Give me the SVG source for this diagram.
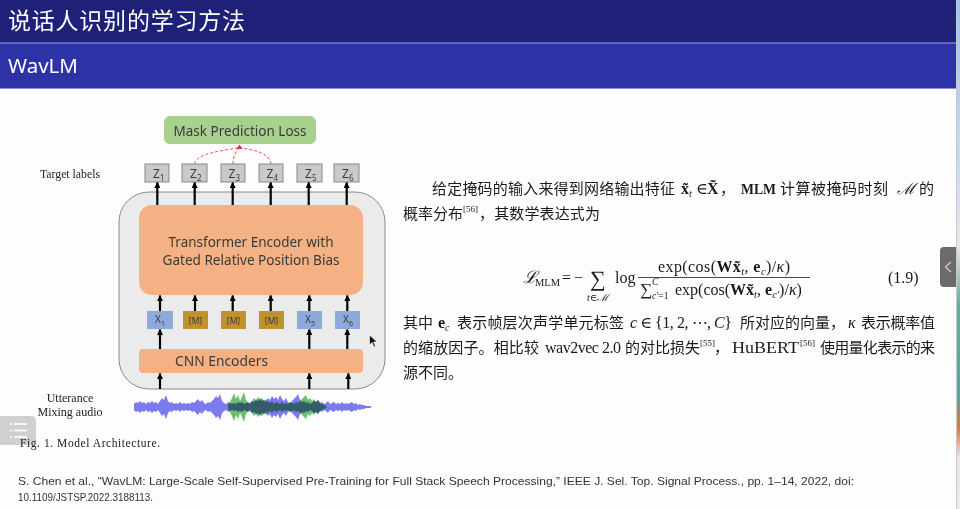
<svg xmlns="http://www.w3.org/2000/svg" width="960" height="509" viewBox="0 0 960 509">
  <defs>
    <style>
      .cjk { font-family: "Noto Sans CJK SC", "Noto Sans", sans-serif; }
      .ser { font-family: "Liberation Serif", "DejaVu Serif", serif; }
      .body { font-size: 15px; fill: #1a1a1a; }
      .lbl { font-family: "Noto Sans", "Liberation Sans", sans-serif; fill: #3a3a3a; }
      .zbox { fill: #c9c9c9; stroke: #8a8a8a; stroke-width: 1; }
      .xbox { fill: #8eaadb; }
      .mbox { fill: #c0922c; }
      .arrow { stroke: #000; stroke-width: 2.2; fill: none; marker-end: url(#head); }
      .dash { stroke: #e8585a; stroke-width: 1; stroke-dasharray: 3 2; fill: none; }
      .cap { font-family: "Liberation Serif", serif; fill: #222; }
    </style>
    <marker id="head" viewBox="0 0 10 10" refX="9" refY="5" markerWidth="6" markerHeight="6" markerUnits="userSpaceOnUse" orient="auto">
      <path d="M0,0 L10,5 L0,10 z" fill="#000"/>
    </marker>
    <linearGradient id="edge" x1="0" y1="0" x2="0" y2="1">
      <stop offset="0" stop-color="#9fc2ef"/>
      <stop offset="0.35" stop-color="#cfdcf4"/>
      <stop offset="0.48" stop-color="#efe3ea"/>
      <stop offset="0.6" stop-color="#6aa9a2"/>
      <stop offset="0.78" stop-color="#5ea39c"/>
      <stop offset="0.84" stop-color="#e27245"/>
      <stop offset="0.9" stop-color="#e8e8e8"/>
      <stop offset="1" stop-color="#ececec"/>
    </linearGradient>
    <!-- upper half of the speech envelope; mirrored below the axis -->
    <path id="wBlue" d="M134,407 L134,404 136,402 138,403 140,401 142,403 144,402 146,404 148,402 150,403 152,401 154,403 156,402 158,404 160,401 162,398 164,400 166,395 168,401 170,403 172,402 174,404 176,403 178,404 180,402 182,404 184,403 186,404 188,403 190,404 192,402 194,403 196,401 198,399 200,402 202,400 204,403 206,404 208,402 210,403 212,401 214,399 216,396 218,398 220,394 222,401 224,403 226,404 228,402 230,403 232,404 234,403 236,404 238,402 240,403 242,402 244,404 246,403 248,402 250,403 252,401 254,402 256,400 258,401 260,399 262,401 264,400 266,402 268,398 270,400 272,396 274,399 276,397 278,400 280,395 282,399 284,401 286,398 288,402 290,403 292,401 294,399 296,397 298,394 300,400 302,402 304,401 306,403 308,402 310,404 312,403 314,401 316,402 318,400 320,403 322,402 324,404 326,403 328,401 330,404 332,403 334,402 336,404 338,403 340,404 342,402 344,404 346,403 348,404 350,403 352,402 354,404 356,403 358,405 360,404 362,405 364,405 366,406 370,406 372,407 Z"/>
    <path id="wGreen" d="M228,407 L228,405 230,402 232,398 234,393 236,399 238,395 240,401 242,397 244,392 246,400 248,403 250,404 252,401 254,398 256,400 258,397 260,399 262,398 264,401 266,399 268,402 270,403 272,401 274,404 276,402 278,403 280,404 282,402 284,404 286,403 288,404 290,402 292,403 294,404 296,402 298,403 300,401 302,399 304,397 306,395 308,400 310,398 312,401 314,399 316,402 318,400 320,403 322,404 324,405 326,406 327,407 Z"/>
  </defs>

  <!-- slide background and header bars -->
  <rect x="0" y="0" width="960" height="509" fill="#fdfdfd"/>
  <rect x="0" y="0" width="956" height="43" fill="#1f2179"/>
  <rect x="0" y="42" width="956" height="1.5" fill="#5a5dc4"/>
  <rect x="0" y="43.5" width="956" height="44.5" fill="#2d32a6"/>
  <rect x="0" y="88" width="956" height="1" fill="#8f92d6"/>
  <text x="8" y="29" class="cjk" font-size="23" fill="#ffffff" textLength="237" lengthAdjust="spacing">说话人识别的学习方法</text>
  <text x="8" y="73" font-family="Noto Sans, Liberation Sans, sans-serif" font-size="20.5" fill="#ffffff">WavLM</text>

  <!-- window edge -->
  <rect x="956" y="0" width="1" height="509" fill="#c8c8c8"/>
  <rect x="957" y="0" width="3" height="509" fill="url(#edge)"/>
  <g id="side-tab">
    <path d="M956,247 L944,247 Q940,247 940,251 L940,283 Q940,287 944,287 L956,287 Z" fill="#6b6b6b"/>
    <path d="M951,262 L945.5,267 L951,272" stroke="#c8c8c8" stroke-width="1.4" fill="none"/>
  </g>
  <g id="menu-tab">
    <path d="M0,416 L31,416 Q36,416 36,421 L36,440 Q36,445 31,445 L0,445 Z" fill="#d0d0d0"/>
    <g stroke="#ffffff" stroke-width="1.6">
      <line x1="14" y1="424" x2="27" y2="424"/>
      <line x1="14" y1="430.5" x2="27" y2="430.5"/>
      <line x1="14" y1="437" x2="27" y2="437"/>
    </g>
    <g fill="#ffffff">
      <circle cx="11" cy="424" r="0.9"/>
      <circle cx="11" cy="430.5" r="0.9"/>
      <circle cx="11" cy="437" r="0.9"/>
    </g>
  </g>

  <!-- ===== architecture figure ===== -->
  <g id="encoder-frame">
    <rect x="119" y="192" width="266" height="197" rx="30" ry="30" fill="#ebebeb" stroke="#8a8a8a" stroke-width="1"/>
  </g>

  <g id="mask-loss">
    <rect x="164" y="116" width="152" height="28" rx="6" fill="#a9d18e"/>
    <text x="240" y="136" text-anchor="middle" class="lbl" font-size="15" textLength="133" lengthAdjust="spacingAndGlyphs" fill="#333">Mask Prediction Loss</text>
  </g>

  <text x="40" y="178" class="cap" font-size="11.5" textLength="60" lengthAdjust="spacingAndGlyphs">Target labels</text>

  <g id="z1"><rect class="zbox" x="145" y="164" width="24" height="18"/><text class="lbl" x="153" y="178" font-size="12">Z<tspan font-size="8" dy="3">1</tspan></text></g>
  <g id="z2"><rect class="zbox" x="182" y="164" width="25" height="18"/><text class="lbl" x="190" y="178" font-size="12">Z<tspan font-size="8" dy="3">2</tspan></text></g>
  <g id="z3"><rect class="zbox" x="221" y="164" width="24" height="18"/><text class="lbl" x="228.5" y="178" font-size="12">Z<tspan font-size="8" dy="3">3</tspan></text></g>
  <g id="z4"><rect class="zbox" x="259" y="164" width="24" height="18"/><text class="lbl" x="266.5" y="178" font-size="12">Z<tspan font-size="8" dy="3">4</tspan></text></g>
  <g id="z5"><rect class="zbox" x="297" y="164" width="25" height="18"/><text class="lbl" x="305" y="178" font-size="12">Z<tspan font-size="8" dy="3">5</tspan></text></g>
  <g id="z6"><rect class="zbox" x="334" y="164" width="25" height="18"/><text class="lbl" x="342" y="178" font-size="12">Z<tspan font-size="8" dy="3">6</tspan></text></g>

  <g id="transformer">
    <rect x="139" y="205" width="224" height="90" rx="13" fill="#f4b183"/>
    <text x="251" y="246.5" text-anchor="middle" class="lbl" font-size="14" textLength="165" lengthAdjust="spacingAndGlyphs" fill="#333">Transformer Encoder with</text>
    <text x="251" y="265" text-anchor="middle" class="lbl" font-size="14" textLength="177" lengthAdjust="spacingAndGlyphs" fill="#333">Gated Relative Position Bias</text>
  </g>

  <g id="x1"><rect class="xbox" x="147" y="311" width="26" height="18"/><text class="lbl" x="155" y="323" font-size="10">X<tspan font-size="7" dy="2.5">1</tspan></text></g>
  <g id="m2"><rect class="mbox" x="183" y="311" width="25" height="18"/><text class="lbl" x="195.5" y="323.5" font-size="8.5" text-anchor="middle" fill="#4a3b10">[M]</text></g>
  <g id="m3"><rect class="mbox" x="221" y="311" width="25" height="18"/><text class="lbl" x="233.5" y="323.5" font-size="8.5" text-anchor="middle" fill="#4a3b10">[M]</text></g>
  <g id="m4"><rect class="mbox" x="259" y="311" width="25" height="18"/><text class="lbl" x="271.5" y="323.5" font-size="8.5" text-anchor="middle" fill="#4a3b10">[M]</text></g>
  <g id="x5"><rect class="xbox" x="297" y="311" width="25" height="18"/><text class="lbl" x="305" y="323" font-size="10">X<tspan font-size="7" dy="2.5">5</tspan></text></g>
  <g id="x6"><rect class="xbox" x="335" y="311" width="25" height="18"/><text class="lbl" x="343" y="323" font-size="10">X<tspan font-size="7" dy="2.5">6</tspan></text></g>

  <g id="cnn">
    <rect x="139" y="349" width="224" height="24" rx="4" fill="#f4b183"/>
    <text x="221.5" y="366" text-anchor="middle" class="lbl" font-size="15" textLength="93" lengthAdjust="spacingAndGlyphs" fill="#333">CNN Encoders</text>
  </g>

  <g id="connectors">
    <!-- transformer outputs to target labels -->
    <line class="arrow" x1="157.3" y1="205" x2="157.3" y2="182.5"/>
    <line class="arrow" x1="194.7" y1="205" x2="194.7" y2="182.5"/>
    <line class="arrow" x1="232.7" y1="205" x2="232.7" y2="182.5"/>
    <line class="arrow" x1="270.7" y1="205" x2="270.7" y2="182.5"/>
    <line class="arrow" x1="308.7" y1="205" x2="308.7" y2="182.5"/>
    <line class="arrow" x1="346.7" y1="205" x2="346.7" y2="182.5"/>
    <!-- masked frames into the transformer -->
    <line class="arrow" x1="160" y1="311" x2="160" y2="295.5"/>
    <line class="arrow" x1="195" y1="311" x2="195" y2="295.5"/>
    <line class="arrow" x1="232.7" y1="311" x2="232.7" y2="295.5"/>
    <line class="arrow" x1="270.7" y1="311" x2="270.7" y2="295.5"/>
    <line class="arrow" x1="309.3" y1="311" x2="309.3" y2="295.5"/>
    <line class="arrow" x1="347.3" y1="311" x2="347.3" y2="295.5"/>
    <!-- CNN features to unmasked frames -->
    <line class="arrow" x1="160" y1="349" x2="160" y2="329.5"/>
    <line class="arrow" x1="309.3" y1="349" x2="309.3" y2="329.5"/>
    <line class="arrow" x1="347.3" y1="349" x2="347.3" y2="329.5"/>
    <!-- audio into the CNN -->
    <line class="arrow" x1="160" y1="389" x2="160" y2="373.5"/>
    <line class="arrow" x1="309.3" y1="389" x2="309.3" y2="373.5"/>
    <line class="arrow" x1="348.3" y1="389" x2="348.3" y2="373.5"/>
    <!-- masked positions feeding the loss -->
    <path class="dash" d="M194.7,164 C196,153 222,151 239.5,147.5"/>
    <path class="dash" d="M233,164 C233,156 236,151 239.5,147.5"/>
    <path class="dash" d="M271,164 C270,153 254,150 239.5,147.5"/>
    <path d="M239.5,144.5 L242.5,149 L236.5,149 Z" fill="#e8323a"/>
  </g>

  <g id="waveform">
    <use href="#wBlue" fill="#7b7bef"/>
    <use href="#wBlue" fill="#7b7bef" transform="matrix(1,0,0,-1,0,814)"/>
    <g style="mix-blend-mode:multiply">
      <use href="#wGreen" fill="#6cc070"/>
      <use href="#wGreen" fill="#6cc070" transform="matrix(1,0,0,-1,0,814)"/>
    </g>
  </g>

  <text x="70" y="402" text-anchor="middle" class="cap" font-size="12">Utterance</text>
  <text x="70" y="416" text-anchor="middle" class="cap" font-size="12" textLength="65" lengthAdjust="spacing">Mixing  audio</text>
  <text x="20" y="447" class="cap" font-size="11.5" textLength="140" lengthAdjust="spacing">Fig. 1.  Model Architecture.</text>

  <!-- pointer -->
  <path d="M369.5,335 L369.5,345 L372,342.5 L374,347 L375.5,346.3 L373.6,342 L377,342 Z" fill="#111" stroke="#fff" stroke-width="0.6"/>

  <!-- ===== explanatory text ===== -->
  <g class="body">
    <text y="194"><tspan x="432" class="cjk" textLength="243" lengthAdjust="spacing">给定掩码的输入来得到网络输出特征</tspan><tspan x="681" class="ser" font-weight="bold" font-size="16">x̃</tspan><tspan class="ser" font-style="italic" font-size="10" dy="3">t</tspan><tspan x="696" dy="-3" class="ser" font-size="16">∈</tspan><tspan x="707" class="ser" font-weight="bold" font-size="16">X̃</tspan><tspan x="720" class="cjk">，</tspan><tspan x="741" class="ser" font-weight="bold" textLength="35" lengthAdjust="spacingAndGlyphs">MLM</tspan><tspan x="780" class="cjk" textLength="108" lengthAdjust="spacing">计算被掩码时刻</tspan><tspan x="897" class="ser" font-style="italic" font-size="16">ℳ</tspan><tspan x="919" class="cjk">的</tspan></text>

    <text y="219"><tspan x="403" class="cjk" textLength="60" lengthAdjust="spacing">概率分布</tspan><tspan x="463" dy="-7" class="ser" font-size="9">[56]</tspan><tspan x="479" dy="7" class="cjk" textLength="121" lengthAdjust="spacing">，其数学表达式为</tspan></text>

    <!-- loss equation -->
    <g class="ser" font-size="16">
      <text x="523" y="283" font-style="italic" font-size="17">ℒ</text>
      <text x="535" y="286" font-size="10.5">MLM</text>
      <text x="562" y="283">=</text>
      <text x="574" y="283">−</text>
      <text x="590" y="286" font-size="22">∑</text>
      <text x="587" y="301" font-size="10" font-style="italic">t<tspan font-style="normal">∈</tspan>ℳ</text>
      <text x="615" y="283">log</text>
      <line x1="638" y1="277.5" x2="810" y2="277.5" stroke="#1a1a1a" stroke-width="0.8"/>
      <text x="658" y="272" textLength="132" lengthAdjust="spacing">exp(cos(<tspan font-weight="bold">Wx̃</tspan><tspan font-style="italic" font-size="10.5" dy="3">t</tspan><tspan dy="-3">, </tspan><tspan font-weight="bold">e</tspan><tspan font-style="italic" font-size="10.5" dy="3">c</tspan><tspan dy="-3">)/</tspan><tspan font-style="italic">κ</tspan>)</text>
      <text x="640" y="295"><tspan font-size="17">∑</tspan><tspan x="652" dy="-10" font-size="9.5" font-style="italic">C</tspan><tspan x="652" dy="14" font-size="9.5" font-style="italic">c′</tspan><tspan font-size="9.5">=1</tspan><tspan x="675" dy="-4">exp(cos(</tspan><tspan font-weight="bold">Wx̃</tspan><tspan font-style="italic" font-size="10.5" dy="3">t</tspan><tspan dy="-3">, </tspan><tspan font-weight="bold">e</tspan><tspan font-style="italic" font-size="10.5" dy="3">c′</tspan><tspan dy="-3">)/</tspan><tspan font-style="italic">κ</tspan>)</text>
      <text x="888" y="283">(1.9)</text>
    </g>

    <text y="328"><tspan x="403" class="cjk">其中</tspan><tspan x="438" class="ser" font-weight="bold" font-size="16">e</tspan><tspan class="ser" font-style="italic" font-size="10" dy="3">c</tspan><tspan x="457" dy="-3" class="cjk" textLength="167" lengthAdjust="spacing">表示帧层次声学单元标签</tspan><tspan x="630" class="ser" font-size="16" textLength="102" lengthAdjust="spacing"><tspan font-style="italic">c</tspan> ∈ {1, 2, ⋯, <tspan font-style="italic">C</tspan>}</tspan><tspan x="740" class="cjk" textLength="105" lengthAdjust="spacing">所对应的向量，</tspan><tspan x="848" class="ser" font-style="italic" font-size="16">κ</tspan><tspan x="861" class="cjk" textLength="74" lengthAdjust="spacing">表示概率值</tspan></text>

    <text y="353"><tspan x="403" class="cjk" textLength="136" lengthAdjust="spacing">的缩放因子。相比较</tspan><tspan x="545" class="ser" font-size="16" textLength="76" lengthAdjust="spacing">wav2vec 2.0</tspan><tspan x="625" class="cjk" textLength="75" lengthAdjust="spacing">的对比损失</tspan><tspan x="700" dy="-7" class="ser" font-size="9">[55]</tspan><tspan x="714" dy="7" class="cjk">，</tspan><tspan x="732" class="ser" font-size="16" textLength="67" lengthAdjust="spacingAndGlyphs">HuBERT</tspan><tspan x="800" dy="-7" class="ser" font-size="9">[56]</tspan><tspan x="820" dy="7" class="cjk" textLength="115" lengthAdjust="spacing">使用量化表示的来</tspan></text>

    <text y="378"><tspan x="403" class="cjk">源不同。</tspan></text>
  </g>

  <!-- reference -->
  <g font-family="Liberation Sans, Arial, sans-serif" font-size="11.5" fill="#333">
    <text x="18" y="485" textLength="836" lengthAdjust="spacingAndGlyphs">S. Chen et al.,   “WavLM: Large-Scale Self-Supervised Pre-Training for Full Stack Speech Processing,”   IEEE J. Sel. Top. Signal Process., pp. 1–14, 2022, doi:</text>
    <text x="18" y="501" textLength="135" lengthAdjust="spacingAndGlyphs">10.1109/JSTSP.2022.3188113.</text>
  </g>
</svg>
